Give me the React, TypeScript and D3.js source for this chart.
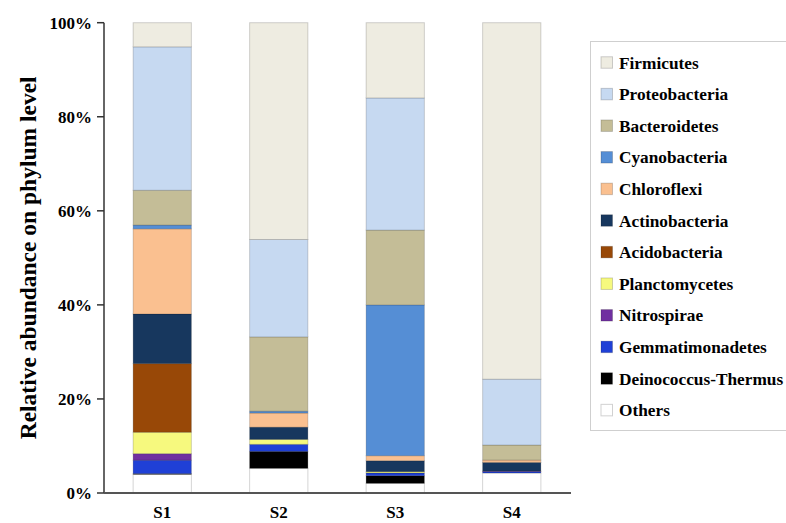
import React from "react";
import * as d3 from "d3";

// Samples along the x axis
const samples = ["S1", "S2", "S3", "S4"];

// Relative abundance (%) of each phylum per sample, listed bottom to top of the stack
const others = [3.97, 5.25, 2.06, 4.25];
const deinococcusThermus = [0.15, 3.6, 1.62, 0];
const gemmatimonadetes = [2.85, 1.5, 0.57, 0.3];
const nitrospirae = [1.4, 0, 0, 0.1];
const planctomycetes = [4.55, 1.05, 0.28, 0];
const acidobacteria = [14.6, 0, 0, 0];
const actinobacteria = [10.55, 2.6, 2.34, 1.85];
const chloroflexi = [18.1, 3.0, 1.06, 0.5];
const cyanobacteria = [0.8, 0.4, 32.07, 0];
const bacteroidetes = [7.4, 15.8, 15.9, 3.2];
const proteobacteria = [30.5, 20.7, 28.1, 14.0];
const firmicutes = [5.13, 46.1, 16.0, 75.8];

const yTicks = [0, 20, 40, 60, 80, 100];

const series = [
  { name: "Others", values: others, color: "#FFFFFF" },
  { name: "Deinococcus-Thermus", values: deinococcusThermus, color: "#000000" },
  { name: "Gemmatimonadetes", values: gemmatimonadetes, color: "#1F40D6" },
  { name: "Nitrospirae", values: nitrospirae, color: "#7030A0" },
  { name: "Planctomycetes", values: planctomycetes, color: "#F6F97E" },
  { name: "Acidobacteria", values: acidobacteria, color: "#984807" },
  { name: "Actinobacteria", values: actinobacteria, color: "#17375E" },
  { name: "Chloroflexi", values: chloroflexi, color: "#FAC090" },
  { name: "Cyanobacteria", values: cyanobacteria, color: "#558ED5" },
  { name: "Bacteroidetes", values: bacteroidetes, color: "#C4BD97" },
  { name: "Proteobacteria", values: proteobacteria, color: "#C6D9F1" },
  { name: "Firmicutes", values: firmicutes, color: "#EEECE1" },
];

const W = 786;
const H = 523;
const left = 104;
const right = 570;
const top = 22.7;
const bottom = 493;
const FONT = "'Liberation Serif', 'Times New Roman', serif";

export default function App() {
  const x = d3.scaleBand().domain(samples).range([left, right]).paddingInner(0.5).paddingOuter(0.25);
  const y = d3.scaleLinear().domain([0, 100]).range([bottom, top]);

  const rows = samples.map((s, i) => {
    const r: Record<string, number | string> = { sample: s };
    series.forEach((se) => (r[se.name] = se.values[i]));
    return r;
  });
  const stacked = d3.stack<any>().keys(series.map((s) => s.name))(rows as any);

  const legendTop = 62.5;
  const legendStep = 31.6;
  const legendOrder = [...series].reverse();

  return (
    <svg
      width={W}
      height={H}
      style={{ position: "absolute", left: 0, top: 0, background: "#fff" }}
      fontFamily={FONT}
    >
      {/* stacked bars */}
      {stacked.map((layer, li) => (
        <g key={layer.key} fill={series[li].color}>
          {layer.map((d, i) =>
            d[1] - d[0] > 0 ? (
              <rect
                key={i}
                x={x(samples[i])!}
                width={x.bandwidth()}
                y={y(d[1])}
                height={y(d[0]) - y(d[1])}
                stroke="rgba(0,0,0,0.17)"
                strokeWidth={1}
              />
            ) : null
          )}
        </g>
      ))}

      {/* y axis */}
      <line x1={left} x2={left} y1={top} y2={bottom} stroke="#333" strokeWidth={1.5} />
      {yTicks.map((t) => (
        <g key={t}>
          <line x1={left - 7} x2={left} y1={y(t)} y2={y(t)} stroke="#333" strokeWidth={1.5} />
          <text
            x={left - 12}
            y={y(t)}
            dy="0.35em"
            textAnchor="end"
            fontSize={17}
            fontWeight="bold"
          >
            {t}%
          </text>
        </g>
      ))}

      {/* x axis */}
      <line x1={left} x2={right + 1} y1={bottom} y2={bottom} stroke="#555" strokeWidth={2} />
      {samples.map((s) => (
        <text
          key={s}
          x={x(s)! + x.bandwidth() / 2}
          y={518}
          textAnchor="middle"
          fontSize={17}
          fontWeight="bold"
        >
          {s}
        </text>
      ))}

      {/* y axis title */}
      <text
        transform={`translate(36, ${(top + bottom) / 2}) rotate(-90)`}
        textAnchor="middle"
        fontSize={23.5}
        fontWeight="bold"
      >
        Relative abundance on phylum level
      </text>

      {/* legend */}
      <rect x={590.5} y={41.5} width={220} height={389} fill="#fff" stroke="#cfcfcf" strokeWidth={1} />
      {legendOrder.map((s, i) => (
        <g key={s.name} transform={`translate(0, ${legendTop + i * legendStep})`}>
          <rect x={601} y={-5.75} width={11.5} height={11.5} fill={s.color} stroke="rgba(0,0,0,0.18)" strokeWidth={1} />
          <text x={619} y={0} dy="0.35em" fontSize={17.3} fontWeight="bold">
            {s.name}
          </text>
        </g>
      ))}
    </svg>
  );
}
